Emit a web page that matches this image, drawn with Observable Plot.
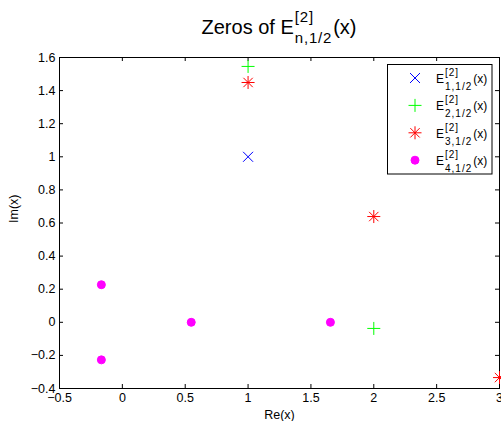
<!DOCTYPE html>
<html><head><meta charset="utf-8">
<script src="https://cdn.jsdelivr.net/npm/d3@7"></script>
<script src="https://cdn.jsdelivr.net/npm/@observablehq/plot@0.6"></script>
<style>
body{margin:0;background:#fff;font-family:"Liberation Sans",Arial,sans-serif;}
#wrap{position:relative;width:501px;height:421px;overflow:hidden;background:#fff;}
#wrap svg{position:absolute;left:0;top:0;}
</style></head>
<body><div id="wrap"></div>
<script>
// ---- data ----
const xTicks = [-0.5, 0, 0.5, 1, 1.5, 2, 2.5, 3];
const yTicks = [-0.4, -0.2, 0, 0.2, 0.4, 0.6, 0.8, 1, 1.2, 1.4, 1.6];
const seriesN = ["1", "2", "3", "4"];
const seriesColors = ["#0000ff", "#00ff00", "#ff0000", "#ff00ff"];
const re1 = [1],                       im1 = [1];
const re2 = [1, 2],                    im2 = [1.546, -0.037];
const re3 = [1, 2, 3],                 im3 = [1.449, 0.639, -0.334];
const re4 = [-0.167, -0.167, 0.548, 1.655], im4 = [0.227, -0.227, 0, 0];
const titleMain = "Zeros of E", titleSup = "[2]", titleSub = "n,1/2", titleTail = "(x)";
const xLabel = "Re(x)", yLabel = "Im(x)";

// ---- MATLAB-like marker symbols ----
const R = s => Math.sqrt(s / Math.PI);
const timesSym = {draw(c, s){const r=R(s); c.moveTo(-r,-r); c.lineTo(r,r); c.moveTo(-r,r); c.lineTo(r,-r);}};
const plusSym = {draw(c, s){const r=R(s); c.moveTo(-r,0); c.lineTo(r,0); c.moveTo(0,-r); c.lineTo(0,r);}};
const starSym = {draw(c, s){const r=R(s), d=r*0.72; c.moveTo(-r,0); c.lineTo(r,0); c.moveTo(0,-r); c.lineTo(0,r);
  c.moveTo(-d,-d); c.lineTo(d,d); c.moveTo(-d,d); c.lineTo(d,-d);}};
const circSym = {draw(c, s){const r=R(s); c.moveTo(r,0); c.arc(0,0,r,0,2*Math.PI);}};
const seriesRe = [re1, re2, re3, re4], seriesIm = [im1, im2, im3, im4];
const seriesSym = [timesSym, plusSym, starSym, circSym];
const seriesR = [5, 6.5, 6.5, 4];
const seriesFill = [false, false, false, true];

const W = 501, H = 421, mL = 59, mR = 2, mT = 57, mB = 33;
const iw = W - mL - mR, ih = H - mT - mB;
const fmt = d => (d < 0 ? "\u2212" : "") + Math.abs(d);
const FONT = "Liberation Sans, Arial, Helvetica, sans-serif";

const dotMarks = seriesN.map((n, k) => Plot.dot(d3.range(seriesRe[k].length), {
  x: i => seriesRe[k][i], y: i => seriesIm[k][i],
  symbol: seriesSym[k], r: seriesR[k],
  stroke: seriesColors[k], strokeWidth: 1,
  fill: seriesFill[k] ? seriesColors[k] : "none"
}));

const chart = Plot.plot({
  width: W, height: H, marginLeft: mL, marginRight: mR, marginTop: mT, marginBottom: mB,
  style: {fontFamily: FONT, fontSize: "12.5px", color: "black", background: "transparent", overflow: "visible"},
  x: {domain: [-0.5, 3]},
  y: {domain: [-0.4, 1.6]},
  marks: [
    Plot.frame({stroke: "black", strokeWidth: 1}),
    Plot.ruleX(xTicks, {x: d => d, insetTop: ih - 4, stroke: "black"}),
    Plot.ruleX(xTicks, {x: d => d, insetBottom: ih - 4, stroke: "black"}),
    Plot.ruleY(yTicks, {y: d => d, insetRight: iw - 4, stroke: "black"}),
    Plot.ruleY(yTicks, {y: d => d, insetLeft: iw - 4, stroke: "black"}),
    Plot.axisX(xTicks, {tickSize: 0, tickPadding: 5, tickFormat: fmt, label: null, fontSize: 12.5}),
    Plot.axisY(yTicks, {tickSize: 0, tickPadding: 4, tickFormat: fmt, label: null, fontSize: 12.5}),
    Plot.text([xLabel], {frameAnchor: "bottom", dy: 30, text: d => d, fontSize: 12.5}),
    Plot.text([yLabel], {frameAnchor: "left", dx: -46, rotate: -90, text: d => d, fontSize: 12.5}),
    ...dotMarks
  ]
});
const wrap = document.getElementById("wrap");
wrap.appendChild(chart);

// ---- overlay: title + legend ----
const ov = d3.select(wrap).append("svg").attr("width", W).attr("height", H)
  .style("overflow", "visible").attr("font-family", FONT);

function mathText(g, x, y, main, sup, sub, tail, fs, ss, supDy, subDy, ls) {
  const t1 = g.append("text").attr("x", x).attr("y", y).attr("font-size", fs).text(main);
  const w1 = t1.node().getComputedTextLength();
  const sx = x + w1 + 1;
  const t2 = g.append("text").attr("x", sx).attr("y", y + supDy).attr("font-size", ss).attr("letter-spacing", ls).text(sup);
  const t3 = g.append("text").attr("x", sx).attr("y", y + subDy).attr("font-size", ss).attr("letter-spacing", ls).text(sub);
  const w2 = Math.max(t2.node().getComputedTextLength(), t3.node().getComputedTextLength());
  const tx = sx + w2 + 1;
  const t4 = g.append("text").attr("x", tx).attr("y", y).attr("font-size", fs).text(tail);
  return tx + t4.node().getComputedTextLength() - x;
}

const tg = ov.append("g");
const tw = mathText(tg, 0, 34, titleMain, titleSup, titleSub, titleTail, 20, 15, -12, 9, 0.8);
tg.attr("transform", `translate(${(mL + (W - mR)) / 2 - tw / 2},0)`);

const lg = ov.append("g");
lg.append("rect").attr("x", 387.5).attr("y", 64.5).attr("width", 104.5).attr("height", 109.5)
  .attr("fill", "white").attr("stroke", "black");
seriesN.forEach((n, k) => {
  const cy = 78 + k * 27.4;
  lg.append("path").attr("transform", `translate(415,${cy})`)
    .attr("d", d3.symbol(seriesSym[k], Math.PI * seriesR[k] * seriesR[k])())
    .attr("stroke", seriesColors[k]).attr("fill", seriesFill[k] ? seriesColors[k] : "none");
  mathText(lg, 436, cy + 5, "E", "[2]", n + ",1/2", "(x)", 12, 10, -7, 7, 1);
});
</script></body></html>
